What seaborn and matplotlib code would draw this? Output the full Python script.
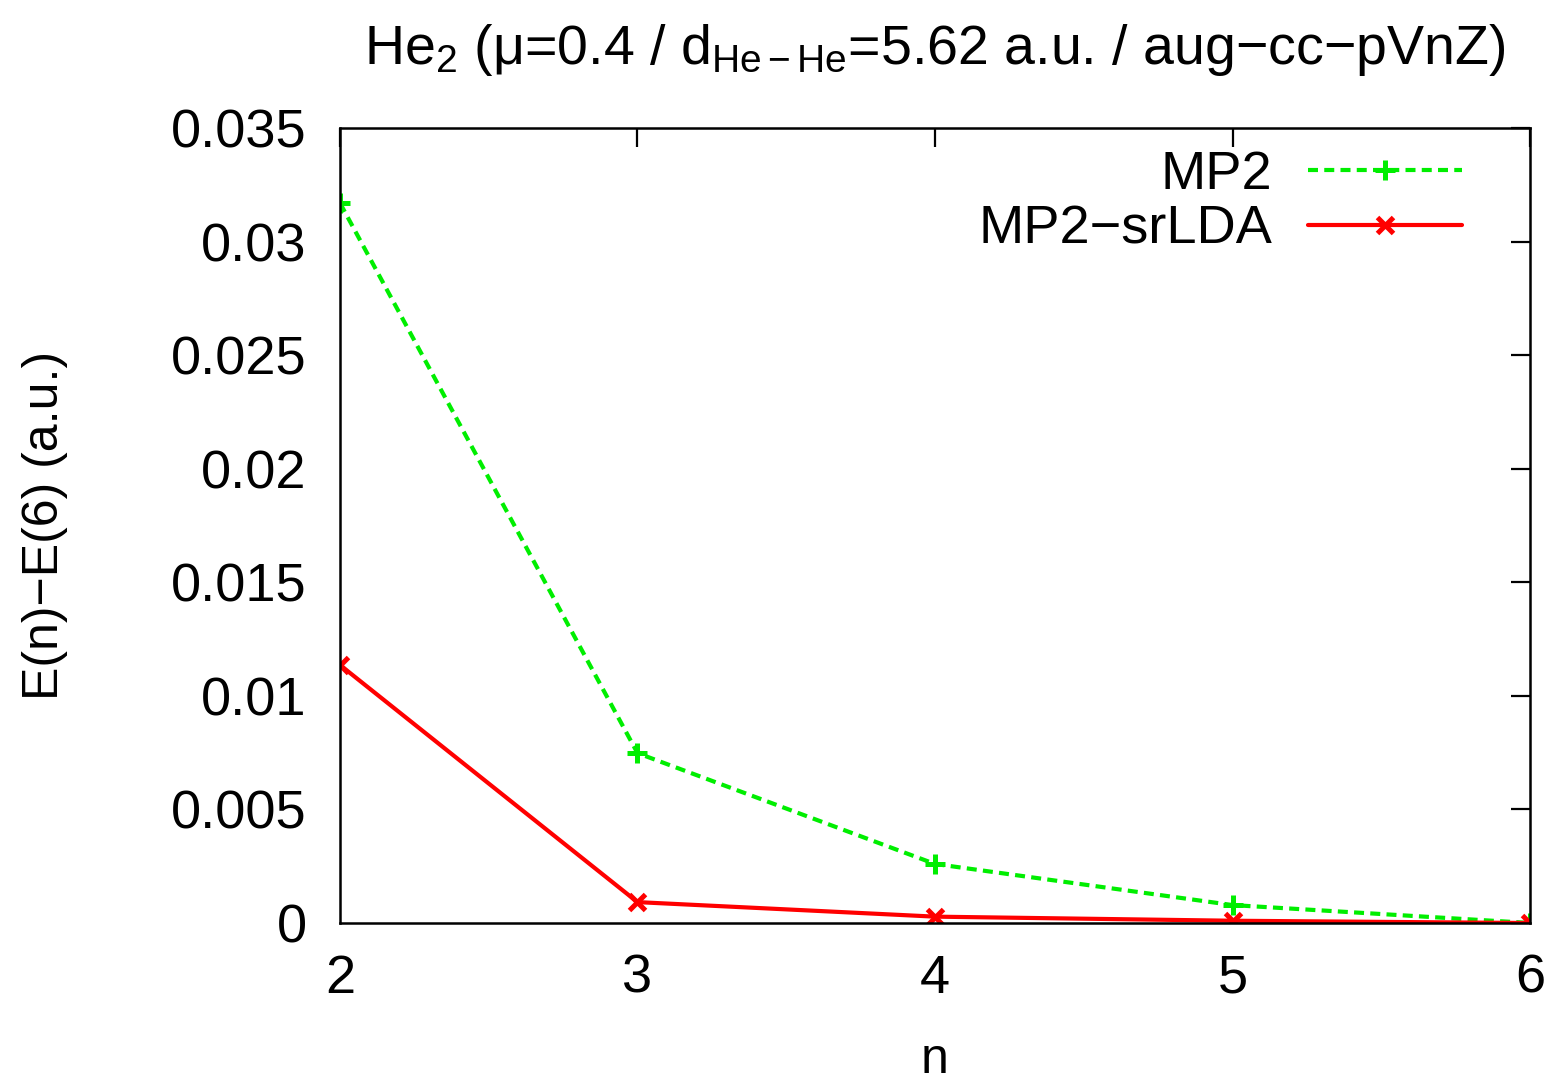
import matplotlib
matplotlib.use("Agg")
import matplotlib.pyplot as plt
import seaborn as sns
import pandas as pd

n_values = [2, 3, 4, 5, 6]
mp2 = [0.0317, 0.00748, 0.0026, 0.00079, 0.0]
mp2_srlda = [0.01136, 0.00092, 0.00028, 0.0001, 0.0]
series_names = ["MP2", "MP2\u2212srLDA"]
x_ticks = [2, 3, 4, 5, 6]
y_ticks = [0, 0.005, 0.01, 0.015, 0.02, 0.025, 0.03, 0.035]
y_tick_labels = ["0", "0.005", "0.01", "0.015", "0.02", "0.025", "0.03", "0.035"]

df = pd.DataFrame({
    "n": n_values * 2,
    "dE": mp2 + mp2_srlda,
    "method": [series_names[0]] * len(n_values) + [series_names[1]] * len(n_values),
})

sns.set_theme(style="white")
plt.rcParams["font.family"] = ["Liberation Sans", "DejaVu Sans"]
plt.rcParams["mathtext.fontset"] = "custom"
plt.rcParams["mathtext.rm"] = "Liberation Sans"
plt.rcParams["mathtext.it"] = "Liberation Sans"
plt.rcParams["mathtext.default"] = "regular"
plt.rcParams["text.color"] = "black"
plt.rcParams["axes.labelcolor"] = "black"
plt.rcParams["xtick.color"] = "black"
plt.rcParams["ytick.color"] = "black"

fig = plt.figure(figsize=(15.56, 10.85), dpi=100)
ax = fig.add_axes([0.2185, 0.1493, 0.9833 - 0.2185, 0.882 - 0.1493])

colors = {series_names[0]: "#00ee00", series_names[1]: "#ff0000"}
styles = {
    series_names[0]: dict(marker="+", markersize=14),
    series_names[1]: dict(marker="x", markersize=11.5),
}
for name in series_names:
    sub = df[df.method == name]
    sns.lineplot(data=sub, x="n", y="dE", ax=ax, color=colors[name], lw=3.0,
                 label=name, marker=styles[name]["marker"],
                 markersize=styles[name]["markersize"],
                 markeredgewidth=3.6, markeredgecolor=colors[name],
                 markerfacecolor=colors[name])

lines = ax.get_lines()
lines[0].set_dashes((2.4, 1.5))
lines[1].set_linestyle("-")

ax.set_xlim(2, 6)
ax.set_ylim(0, 0.035)
ax.set_xticks(x_ticks)
ax.set_xticklabels([str(v) for v in x_ticks])
ax.set_yticks(y_ticks)
ax.set_yticklabels(y_tick_labels)
ax.tick_params(axis="both", which="both", direction="in", length=14, width=1.6,
               top=True, right=True, labelsize=39, color="black")
ax.tick_params(axis="y", pad=24)
ax.tick_params(axis="x", pad=22)
for s in ax.spines.values():
    s.set_linewidth(1.8)
    s.set_color("black")

ax.set_xlabel("n", fontsize=36, labelpad=24)
ax.set_ylabel("E(n)\u2212E(6) (a.u.)", fontsize=36, labelpad=74)
title = "He$_2$ (\u03bc=0.4 / d$_{He\u2212He}$=5.62 a.u. / aug\u2212cc\u2212pVnZ)"
ax.set_title(title, fontsize=40, pad=46, x=0.5)

leg = ax.legend(loc="upper right", frameon=False, markerfirst=False, fontsize=39,
                handlelength=2.85, handletextpad=0.65, borderaxespad=0.0,
                borderpad=0.0, labelspacing=0.08, bbox_to_anchor=(0.943, 0.972))

fig.savefig("out.png", dpi=100, facecolor="white")
